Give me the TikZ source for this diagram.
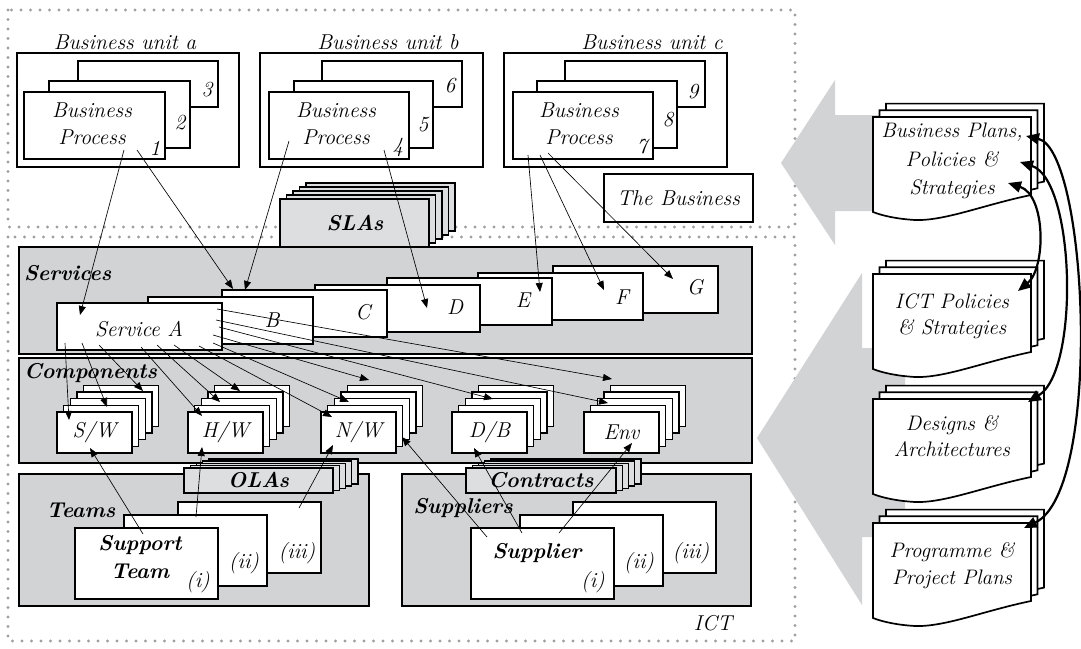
\documentclass[tikz,border=0pt]{standalone}
\usepackage{fontspec}
\usetikzlibrary{arrows.meta}
\definecolor{dotgrey}{RGB}{160,160,162}
\definecolor{panelgrey}{RGB}{210,211,213}
\definecolor{agrgrey}{RGB}{221,222,224}
\definecolor{bigarrgrey}{RGB}{209,211,212}
% stack of boxes: name, x, y, w, h, nmax, dx, dy, style
\newcommand\mystack[9]{%
  \foreach \k in {#6,...,0}{%
    \node[#9, minimum width=#4pt, minimum height=#5pt, anchor=north west] (#1-\k) at ({#2+\k*(#7)},{#3+\k*(#8)}) {};
  }}
% single box: name, x, y, w, h, style
\newcommand\rbox[6]{\node[#6, minimum width=#4pt, minimum height=#5pt, anchor=north west] (#1) at (#2,#3) {};}
% document page with wavy bottom, top-left corner x, y
\newcommand\docpage[2]{%
  \draw[docline] (#1,#2) -- ({#1+158},#2) -- ({#1+158},{#2+78})
    .. controls ({#1+110},{#2+88}) and ({#1+72},{#2+104}) .. ({#1+42},{#2+103})
    .. controls ({#1+25},{#2+102}) and ({#1+10},{#2+99}) .. (#1,{#2+95}) -- cycle;}
\newcommand\docstack[1]{%
  \docpage{886}{#1-13.4}\docpage{879.5}{#1-6.7}\docpage{873}{#1}}
\begin{document}
\begin{tikzpicture}[x=1pt,y=-1pt,
  every node/.style={inner sep=0pt,outer sep=0pt},
  box/.style={draw,fill=white,line width=1.3pt},
  pbox/.style={draw,fill=white,line width=1.6pt},
  panel/.style={draw,fill=panelgrey,line width=1.6pt},
  agr/.style={draw,fill=agrgrey,line width=1.4pt},
  lab/.style={font=\fontsize{21.5}{27}\selectfont\itshape},
  blab/.style={font=\fontsize{21.5}{28}\selectfont\bfseries\itshape},
  region/.style={draw=dotgrey,line width=3.4pt,dash pattern=on 0pt off 9.5pt,line cap=round},
  thinarr/.style={-{Triangle[length=9pt,width=7pt]},line width=0.65pt},
  bigarr/.style={{Triangle[length=13pt,width=11pt]}-{Triangle[length=13pt,width=11pt]},line width=2.2pt},
  docline/.style={draw,fill=white,line width=1.7pt},
  biggrey/.style={fill=bigarrgrey}
]
\useasboundingbox (0,0) rectangle (1081,648);

% dotted regions
\draw[region] (8,10) rectangle (795,227);
\draw[region] (8,237) rectangle (795,641);

% big grey arrows
\fill[biggrey] (781,163) -- (835,80) -- (835,115) -- (900,115) -- (900,211) -- (835,211) -- (835,245) -- cycle;
\fill[biggrey] (757,438) -- (862,273) -- (862,348) -- (905,348) -- (905,537) -- (862,537) -- (862,605) -- cycle;

% ---------- The Business ----------
\rbox{bua}{17}{53}{222}{114}{box}
\rbox{bub}{260}{53}{223}{114}{box}
\rbox{buc}{504}{53}{223}{114}{box}
\node[lab] (buaT) at (125,42) {Business unit a};
\node[lab] (bubT) at (388,42) {Business unit b};
\node[lab] (bucT) at (652,42) {Business unit c};

\rbox{bp3}{78}{61}{140}{46}{pbox}
\rbox{bp2}{49}{81}{141}{67}{pbox}
\rbox{bp1}{24}{92}{141}{67}{pbox}
\rbox{bp6}{322}{61}{140}{46}{pbox}
\rbox{bp5}{294}{81}{139}{67}{pbox}
\rbox{bp4}{269}{92}{140}{67}{pbox}
\rbox{bp9}{565}{61}{140}{46}{pbox}
\rbox{bp8}{537}{81}{140}{67}{pbox}
\rbox{bp7}{513}{92}{140}{67}{pbox}

\node[lab,align=center] (bp1T) at (92,124) {Business\\Process};
\node[lab,align=center] (bp4T) at (336,124) {Business\\Process};
\node[lab,align=center] (bp7T) at (579,124) {Business\\Process};
\node[lab] (n3) at (207,90) {3};
\node[lab] (n2) at (180,123) {2};
\node[lab] (n1) at (155,148) {1};
\node[lab] (n6) at (450,86) {6};
\node[lab] (n5) at (423,125) {5};
\node[lab] (n4) at (398,147) {4};
\node[lab] (n9) at (693,92) {9};
\node[lab] (n8) at (668,120) {8};
\node[lab] (n7) at (642,147) {7};

\node[box,minimum width=149pt,minimum height=48pt,anchor=north west] (biz) at (604,174) {};
\node[lab] (bizT) at (biz.center) {The Business};

% ---------- Services / Components panels ----------
\rbox{svcpanel}{19}{247}{733}{107}{panel}
\rbox{cmppanel}{19}{358}{733}{105}{panel}
\mystack{sla}{280}{199}{149}{48}{4}{6.5}{-4}{agr}
\node[blab] (slaT) at (355,223) {SLAs};
\node[blab,anchor=west] (svcT) at (24,273) {Services};
\node[blab,anchor=west] (cmpT) at (24,373) {Components};

\rbox{svG}{553}{266}{165}{47}{pbox}
\rbox{svF}{478}{273}{165}{47}{pbox}
\rbox{svE}{387}{278}{165}{47}{pbox}
\rbox{svD}{315}{285}{165}{47}{pbox}
\rbox{svC}{222}{290}{165}{47}{pbox}
\rbox{svB}{148}{297}{165}{47}{pbox}
\rbox{svA}{57}{303}{165}{47}{pbox}
\node[lab] (svAT) at (139,329) {Service A};
\node[lab] (svBT) at (272,320) {B};
\node[lab] (svCT) at (363,312) {C};
\node[lab] (svDT) at (455,307) {D};
\node[lab] (svET) at (523,300) {E};
\node[lab] (svFT) at (622,297) {F};
\node[lab] (svGT) at (695,287) {G};

% components
\mystack{sw}{57}{412}{75}{41}{4}{6.67}{-6.67}{pbox}
\mystack{hw}{188}{412}{75}{41}{4}{6.67}{-6.67}{pbox}
\mystack{nw}{321}{412}{75}{41}{4}{6.67}{-6.67}{pbox}
\mystack{db}{452}{412}{75}{41}{4}{6.67}{-6.67}{pbox}
\mystack{env}{584}{412}{75}{41}{4}{6.67}{-6.67}{pbox}
\node[lab] (swT) at (sw-0.center) {S/W};
\node[lab] (hwT) at (hw-0.center) {H/W};
\node[lab] (nwT) at (nw-0.center) {N/W};
\node[lab] (dbT) at (db-0.center) {D/B};
\node[lab] (envT) at (env-0.center) {Env};

% ---------- Teams / Suppliers ----------
\rbox{teampanel}{19}{474}{350}{132}{panel}
\rbox{suppanel}{402}{474}{349}{132}{panel}
\node[blab] (teamT) at (81,510) {Teams};
\node[blab] (supT) at (463,508) {Suppliers};

\rbox{tm3}{178}{502}{143}{71}{pbox}
\rbox{tm2}{124}{515}{143}{71}{pbox}
\rbox{tm1}{75}{528}{143}{71}{pbox}
\rbox{sp3}{573}{502}{143}{71}{pbox}
\rbox{sp2}{520}{515}{143}{71}{pbox}
\rbox{sp1}{471}{528}{143}{71}{pbox}
\node[blab,align=center] (tm1T) at (140,557) {Support\\Team};
\node[lab] (tm1n) at (198,582) {(i)};
\node[lab] (tm2n) at (244,563) {(ii)};
\node[lab] (tm3n) at (297,553) {(iii)};
\node[blab] (sp1T) at (537,553) {Supplier};
\node[lab] (sp1n) at (593,582) {(i)};
\node[lab] (sp2n) at (639,563) {(ii)};
\node[lab] (sp3n) at (691,553) {(iii)};

\mystack{ola}{184}{468}{149}{25}{4}{6.25}{-2.3}{agr}
\mystack{ctr}{466}{468}{150}{25}{4}{6.25}{-2.3}{agr}
\node[blab] (olaT) at (ola-0.center) {OLAs};
\node[blab] (ctrT) at (ctr-0.center) {Contracts};

\node[lab] (ictT) at (713,623) {ICT};

% ---------- thin connectors ----------
\foreach \n/\sx/\sy/\ex/\ey in {
  a1/124/150/80/315, a2/137/150/233/289, b1/289/141/245/290, b2/384/150/427/308,
  c1/528/155/540/292, c2/540/155/604/290, c3/548/153/673/279,
  s1/65/343/69/420, s2/82/343/107/407, s3/99/345/143/391,
  s4/141/347/202/416, s5/157/345/220/402, s6/174/345/240/391,
  s7/199/346/332/417, s8/213/343/349/402, s9/213/335/369/380,
  s10/219/327/493/399, s11/216/320/608/403, s12/217/309/612/379,
  t1/143/534/90/448, t2/196/517/202/447, t3/299/508/333/445,
  u1/487/537/402/437, u2/522/533/474/448, u3/559/533/632/443}{
  \coordinate (\n s) at (\sx,\sy);
  \coordinate (\n e) at (\ex,\ey);
  \draw[thinarr] (\n s) -- (\n e);
}

% ---------- documents ----------
\docstack{117}
\docstack{274}
\docstack{399}
\docstack{523}
\node[lab,align=center,font=\fontsize{21}{28.5}\selectfont\itshape] (d1T) at (952,161) {Business Plans,\\Policies \&\\Strategies};
\node[lab,align=center,font=\fontsize{21}{26}\selectfont\itshape] (d2T) at (952,316) {ICT Policies\\\& Strategies};
\node[lab,align=center,font=\fontsize{21}{26}\selectfont\itshape] (d3T) at (952,436) {Designs \&\\Architectures};
\node[lab,align=center,font=\fontsize{21}{27}\selectfont\itshape] (d4T) at (952,566) {Programme \&\\Project Plans};

\coordinate (k1s) at (1008,183); \coordinate (k1e) at (1018,291);
\coordinate (k2s) at (1020,162); \coordinate (k2e) at (1028,402);
\coordinate (k3s) at (1026,136); \coordinate (k3e) at (1024,528);
\draw[bigarr] (k1s) .. controls (1046,195) and (1046,268) .. (k1e);
\draw[bigarr] (k2s) .. controls (1075,180) and (1080,370) .. (k2e);
\draw[bigarr] (k3s) .. controls (1088,150) and (1103,490) .. (k3e);
\end{tikzpicture}
\end{document}
